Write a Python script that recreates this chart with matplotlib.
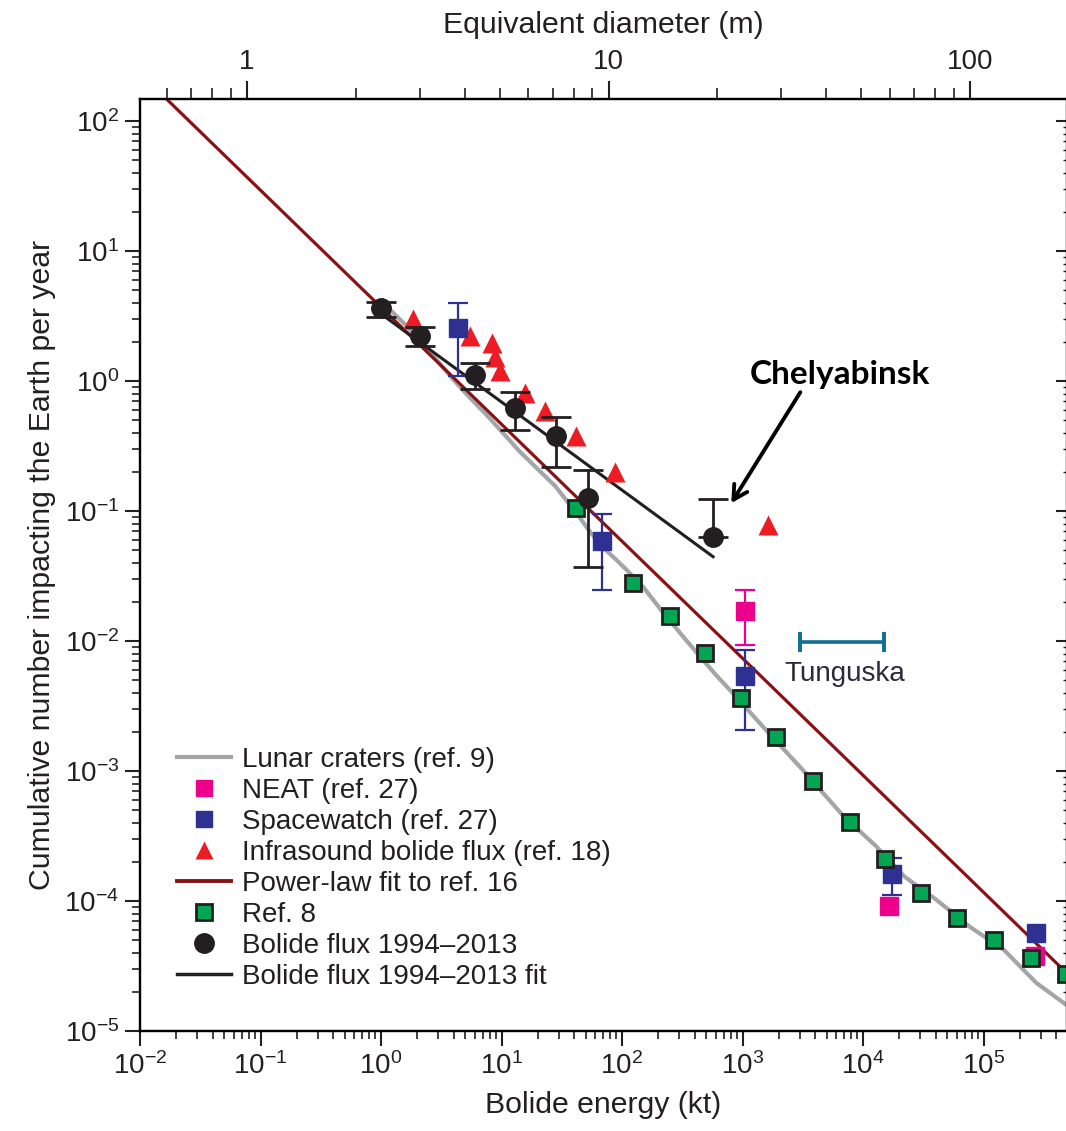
import numpy as np
import matplotlib
matplotlib.use('Agg')
import matplotlib.pyplot as plt
from matplotlib.lines import Line2D
from matplotlib.ticker import LogLocator, NullFormatter, FixedLocator, FixedFormatter

plt.rcParams['font.family'] = ['Liberation Sans', 'DejaVu Sans']
plt.rcParams['mathtext.fontset'] = 'custom'
plt.rcParams['mathtext.rm'] = 'Liberation Sans'
plt.rcParams['mathtext.it'] = 'Liberation Sans:italic'
plt.rcParams['mathtext.bf'] = 'Liberation Sans:bold'

# ---------------- data ----------------
# Lunar craters (ref. 9)
lunar_E = [0.95, 1.2, 1.6, 2.2, 3.0, 4.0, 5.5, 7.5, 10, 14, 20, 28, 36, 45, 55, 70, 90, 110,
           150, 220, 330, 450, 600, 891, 1480, 3160, 6920, 12900, 21900, 40700, 77600,
           148000, 275000, 525000]
lunar_N = [3.9, 3.5, 2.7, 1.95, 1.4, 1.02, 0.74, 0.55, 0.41, 0.29, 0.21, 0.155, 0.115, 0.088,
           0.068, 0.052, 0.042, 0.035, 0.026, 0.0165, 0.0105, 0.0075, 0.0055, 0.0037, 0.00219,
           0.00102, 0.000447, 0.000263, 0.000155, 0.000102, 6.3e-5, 4.2e-5, 2.34e-5, 1.51e-5]

# NEAT (ref. 27)
neat_E = [1055, 16560, 270000]
neat_N = [0.017, 9.2e-5, 3.8e-5]
neat_lo = [0.0093, np.nan, np.nan]
neat_hi = [0.0247, np.nan, np.nan]

# Spacewatch (ref. 27)
sw_E = [4.36, 68.5, 1055, 17540, 275000]
sw_N = [2.56, 0.0588, 0.00538, 1.61e-4, 5.7e-5]
sw_lo = [1.09, 0.0247, 0.00207, 1.11e-4, np.nan]
sw_hi = [3.98, 0.095, 0.00853, 2.14e-4, np.nan]

# Infrasound bolide flux (ref. 18)
inf_E = [1.84, 5.49, 8.36, 8.85, 9.73, 15.7, 23.0, 41.7, 87.8, 1637]
inf_N = [3.0, 2.22, 1.96, 1.53, 1.19, 0.81, 0.587, 0.378, 0.20, 0.078]

# Power-law fit to ref. 16 (end points)
pl_E = [0.01, 1.0e6]
pl_N = [233.0, 1.47e-5]

# Ref. 8
ref8_E = [41.7, 124, 251, 491, 977, 1909, 3873, 7853, 15350, 30550, 60800, 123000,
          246000, 480000]
ref8_N = [0.105, 0.0279, 0.0156, 0.0081, 0.00365, 0.00183, 8.4e-4, 4.05e-4, 2.1e-4,
          1.15e-4, 7.4e-5, 5.0e-5, 3.65e-5, 2.74e-5]

# Bolide flux 1994-2013
bf_E = [1.0, 2.11, 6.04, 13.0, 28.4, 52.4, 572]
bf_N = [3.65, 2.22, 1.11, 0.62, 0.378, 0.126, 0.063]
bf_lo = [3.1, 1.86, 0.867, 0.42, 0.218, 0.037, np.nan]
bf_hi = [4.05, 2.6, 1.37, 0.82, 0.53, 0.207, 0.124]

# Bolide flux 1994-2013 fit (end points)
bff_E = [0.91, 570]
bff_N = [3.5, 0.0445]

# Tunguska range
tung_E = [3000, 15000]
tung_N = [0.0098, 0.0098]
tung_label = (7100, 0.0056)

# Chelyabinsk annotation points
chel_point = (807, 0.115)
chel_text = (3020, 0.82)
chel_label = (6400, 1.13)

x_ticks = [1e-2, 1e-1, 1e0, 1e1, 1e2, 1e3, 1e4, 1e5]
x_ticklabels = [r'$\mathregular{10^{-2}}$', r'$\mathregular{10^{-1}}$', r'$\mathregular{10^{0}}$',
                r'$\mathregular{10^{1}}$', r'$\mathregular{10^{2}}$', r'$\mathregular{10^{3}}$',
                r'$\mathregular{10^{4}}$', r'$\mathregular{10^{5}}$']
y_ticks = [1e-5, 1e-4, 1e-3, 1e-2, 1e-1, 1e0, 1e1, 1e2]
y_ticklabels = [r'$\mathregular{10^{-5}}$', r'$\mathregular{10^{-4}}$', r'$\mathregular{10^{-3}}$',
                r'$\mathregular{10^{-2}}$', r'$\mathregular{10^{-1}}$', r'$\mathregular{10^{0}}$',
                r'$\mathregular{10^{1}}$', r'$\mathregular{10^{2}}$']
d_ticks = [1, 10, 100]
d_ticklabels = ['1', '10', '100']
d_minor = [0.6, 0.7, 0.8, 0.9, 2, 3, 4, 5, 6, 7, 8, 9, 20, 30, 40, 50, 60, 70, 80, 90, 200]

E_per_d3 = 0.0774  # kt for a 1 m equivalent diameter

# ---------------- colors ----------------
C_GRAY = '#a3a5a8'
C_PINK = '#ec008c'
C_BLUE = '#2e3192'
C_RED = '#ed1c24'
C_DRED = '#8b1214'
C_GREEN = '#00a651'
C_BLACK = '#231f20'
C_TEAL = '#0e6f93'

W, H = 1066, 1131
fig = plt.figure(figsize=(W / 100, H / 100), dpi=100)
ax = fig.add_axes([140 / W, 100 / H, (1067 - 140) / W, (1031 - 99) / H])

xmin, xmax = 1e-2, 10 ** (-2 + (1067 - 140) / 120.5)
ymin, ymax = 1e-5, 10 ** (-5 + (1031 - 99) / 130.0)
ax.set_xscale('log')
ax.set_yscale('log')
ax.set_xlim(xmin, xmax)
ax.set_ylim(ymin, ymax)

# lines
ax.plot(lunar_E, lunar_N, color=C_GRAY, lw=3.0, solid_capstyle='round',
        solid_joinstyle='round', zorder=2)
ax.plot(pl_E, pl_N, color=C_DRED, lw=2.3, zorder=3)
ax.plot(bff_E, bff_N, color=C_BLACK, lw=2.2, zorder=3)

# Tunguska
ax.plot(tung_E, tung_N, color=C_TEAL, lw=2.6, zorder=3)
ax.plot(tung_E, tung_N, ls='none', marker='|', ms=15, mew=2.8, color=C_TEAL, zorder=3)
ax.text(tung_label[0], tung_label[1], 'Tunguska', fontsize=20, color='#2b2b3b',
        ha='center', va='center')

# Ref 8 green squares
ax.plot(ref8_E, ref8_N, ls='none', marker='s', ms=12, mfc=C_GREEN, mec=C_BLACK, mew=2.0, zorder=5)

# NEAT
ne = np.array(neat_N)
ax.errorbar(neat_E, neat_N, yerr=[ne - np.array(neat_lo), np.array(neat_hi) - ne], fmt='s',
            ms=13, color=C_PINK, ecolor=C_PINK, elinewidth=1.6, capsize=7, capthick=1.6, zorder=4)
# Spacewatch
sn = np.array(sw_N)
ax.errorbar(sw_E, sw_N, yerr=[sn - np.array(sw_lo), np.array(sw_hi) - sn], fmt='s',
            ms=13, color=C_BLUE, ecolor=C_BLUE, elinewidth=1.6, capsize=7, capthick=1.6, zorder=4)
# Infrasound
ax.plot(inf_E, inf_N, ls='none', marker='^', ms=14, color=C_RED, mec='none', zorder=4)
# Bolide flux
bn = np.array(bf_N)
lo = bn - np.array(bf_lo)
lo = np.where(np.isnan(lo), 0, lo)
ax.errorbar(bf_E, bf_N, yerr=[lo, np.array(bf_hi) - bn], fmt='o', ms=14, color=C_BLACK,
            ecolor=C_BLACK, elinewidth=2.0, capsize=11, capthick=2.0, zorder=6)

# Chelyabinsk annotation
ax.annotate('', xy=chel_point, xytext=chel_text,
            arrowprops=dict(arrowstyle='->,head_length=1.0,head_width=0.55', lw=2.8, color='black',
                            shrinkA=0, shrinkB=0), zorder=7)
ax.text(chel_label[0], chel_label[1], 'Chelyabinsk', fontsize=24, fontweight='bold',
        family=['Lato', 'DejaVu Sans'], color='black', ha='center', va='center')

# ticks / spines
for s in ax.spines.values():
    s.set_linewidth(1.6)
    s.set_color(C_BLACK)
ax.xaxis.set_major_locator(FixedLocator(x_ticks))
ax.xaxis.set_major_formatter(FixedFormatter(x_ticklabels))
ax.yaxis.set_major_locator(FixedLocator(y_ticks))
ax.yaxis.set_major_formatter(FixedFormatter(y_ticklabels))
ax.xaxis.set_minor_locator(LogLocator(base=10, subs=np.arange(2, 10), numticks=100))
ax.yaxis.set_minor_locator(LogLocator(base=10, subs=np.arange(2, 10), numticks=100))
ax.xaxis.set_minor_formatter(NullFormatter())
ax.yaxis.set_minor_formatter(NullFormatter())
ax.tick_params(which='major', direction='out', length=11, width=1.5, labelsize=20, pad=4,
               colors=C_BLACK, top=False, right=False)
ax.tick_params(which='minor', direction='out', length=6, width=1.2, top=False, right=False,
               colors=C_BLACK)
ax.set_xlabel('Bolide energy (kt)', fontsize=21.8, color=C_BLACK, labelpad=8)
ax.set_ylabel('Cumulative number impacting the Earth per year', fontsize=21.8, color=C_BLACK,
              labelpad=6)

# right axis: inward ticks, no labels
axr = ax.secondary_yaxis('right')
axr.yaxis.set_major_locator(FixedLocator(y_ticks))
axr.yaxis.set_minor_locator(LogLocator(base=10, subs=np.arange(2, 10), numticks=100))
axr.yaxis.set_major_formatter(NullFormatter())
axr.yaxis.set_minor_formatter(NullFormatter())
axr.tick_params(which='major', direction='in', length=8, width=1.5, colors=C_BLACK)
axr.tick_params(which='minor', direction='in', length=3, width=1.0, colors=C_BLACK)

# top axis: equivalent diameter
ax2 = ax.twiny()
ax2.set_xscale('log')
ax2.set_xlim((xmin / E_per_d3) ** (1 / 3), (xmax / E_per_d3) ** (1 / 3))
ax2.xaxis.set_major_locator(FixedLocator(d_ticks))
ax2.xaxis.set_major_formatter(FixedFormatter(d_ticklabels))
ax2.xaxis.set_minor_locator(FixedLocator(d_minor))
ax2.xaxis.set_minor_formatter(NullFormatter())
ax2.tick_params(which='major', direction='out', length=13, width=1.5, labelsize=20, pad=4,
                colors=C_BLACK)
ax2.tick_params(which='minor', direction='out', length=8, width=1.2, colors=C_BLACK)
ax2.set_xlabel('Equivalent diameter (m)', fontsize=21.8, color=C_BLACK, labelpad=12)
for s in ax2.spines.values():
    s.set_linewidth(1.6)

# legend
handles = [
    Line2D([], [], color=C_GRAY, lw=3.0),
    Line2D([], [], ls='none', marker='s', ms=12, color=C_PINK),
    Line2D([], [], ls='none', marker='s', ms=12, color=C_BLUE),
    Line2D([], [], ls='none', marker='^', ms=13, color=C_RED, mec='none'),
    Line2D([], [], color=C_DRED, lw=2.8),
    Line2D([], [], ls='none', marker='s', ms=11, mfc=C_GREEN, mec=C_BLACK, mew=2.0),
    Line2D([], [], ls='none', marker='o', ms=14, color=C_BLACK),
    Line2D([], [], color=C_BLACK, lw=2.5),
]
labels = ['Lunar craters (ref. 9)', 'NEAT (ref. 27)', 'Spacewatch (ref. 27)',
          'Infrasound bolide flux (ref. 18)', 'Power-law fit to ref. 16', 'Ref. 8',
          'Bolide flux 1994\u20132013', 'Bolide flux 1994\u20132013 fit']
leg = ax.legend(handles, labels, loc='upper left', bbox_to_anchor=(177 / W, 1 - 747 / H),
                bbox_transform=fig.transFigure, frameon=False, fontsize=20, handlelength=1.95,
                handletextpad=0.38, labelspacing=0.18, borderpad=0, borderaxespad=0)
for t in leg.get_texts():
    t.set_color(C_BLACK)
leg.set_zorder(10)

fig.savefig('out.png', dpi=100)
